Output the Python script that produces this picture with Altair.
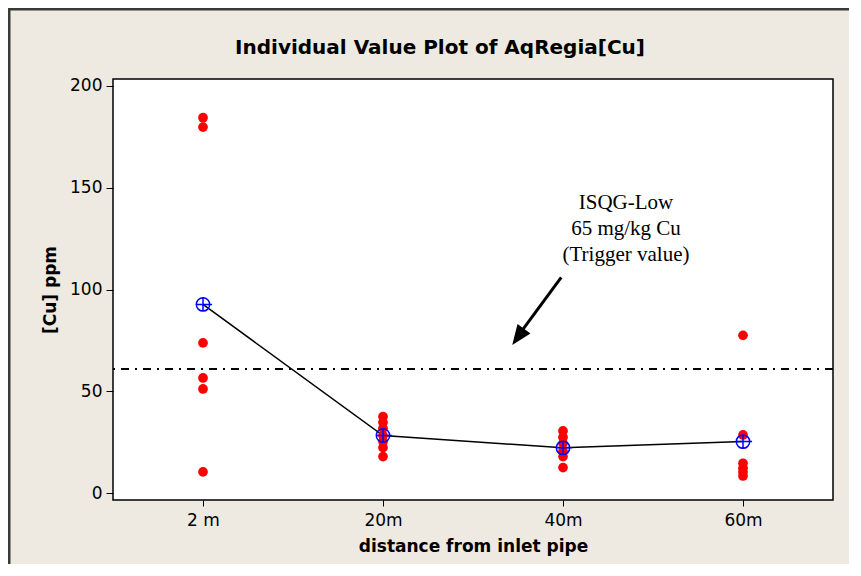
import json
import altair as alt
import pandas as pd

# ---- data ----
CATEGORIES = ["2 m", "20m", "40m", "60m"]
CU_2M = [184.3, 179.7, 73.8, 56.6, 51.2, 10.5]
CU_20M = [37.6, 34.7, 31.9, 28.3, 25.4, 22.4, 18.0]
CU_40M = [30.6, 27.5, 24.5, 20.5, 18.0, 12.6]
CU_60M = [77.5, 28.6, 14.7, 12.3, 10.5, 8.5]
TRIGGER = [61]
TITLE = ["Individual Value Plot of AqRegia[Cu]"]
ANNOT_TEXT = ["ISQG-Low\n65 mg/kg Cu\n(Trigger value)"]
ANNOT_POS = [2.35, 142.6]
ARROW_TAIL = [1.99, 106]
ARROW_END = [1.765, 79]
ARROW_TIP = [1.718, 72.8]

SERIES = [CU_2M, CU_20M, CU_40M, CU_60M]
rows = []
for i, vals in enumerate(SERIES):
    for v in vals:
        rows.append({"pos": i, "cat": CATEGORIES[i], "value": v})
df = pd.DataFrame(rows)

FONT = "DejaVu Sans"
x_scale = alt.Scale(domain=[-0.5, 3.5], nice=False, zero=False)
y_scale = alt.Scale(domain=[-3.3, 203.3], nice=False, zero=False)
label_expr = json.dumps(CATEGORIES) + "[datum.value]"

x_enc = alt.X(
    "pos:Q", scale=x_scale,
    axis=alt.Axis(values=[0, 1, 2, 3], labelExpr=label_expr,
                  title="distance from inlet pipe", grid=False, domain=False,
                  tickSize=6, tickColor="black", labelFontSize=17,
                  labelColor="black", labelFont=FONT, labelPadding=6,
                  titleFont=FONT, titleFontSize=17, titleFontWeight="bold",
                  titleColor="black", titlePadding=10),
)
y_enc = alt.Y(
    "value:Q", scale=y_scale,
    axis=alt.Axis(values=[0, 50, 100, 150, 200], title="[Cu] ppm", grid=False,
                  domain=False, tickSize=7, tickColor="black",
                  labelFontSize=17, labelColor="black", labelFont=FONT,
                  labelPadding=4, titleFont=FONT, titleFontSize=17,
                  titleFontWeight="bold", titleColor="black", titlePadding=10),
)

base = alt.Chart(df)

points = base.mark_circle(color="#FF0000", size=95, opacity=1).encode(x=x_enc, y=y_enc)

mean_line = base.mark_line(color="black", strokeWidth=1.5).encode(
    x=alt.X("pos:Q", scale=x_scale), y=alt.Y("mean(value):Q", scale=y_scale)
)

CIRCLE_PLUS = "M-1,0A1,1,0,1,1,1,0A1,1,0,1,1,-1,0ZM-1,0L1.35,0M0,-1L0,1"
mean_pts = base.mark_point(shape=CIRCLE_PLUS, filled=False, color="#0000FF",
                           size=180, strokeWidth=1.5, opacity=1).encode(
    x=alt.X("pos:Q", scale=x_scale), y=alt.Y("mean(value):Q", scale=y_scale)
)

ref_df = pd.DataFrame({"y": TRIGGER})
ref_rule = alt.Chart(ref_df).mark_rule(color="black", strokeWidth=2,
                                       strokeDash=[8, 6, 2, 6]).encode(
    y=alt.Y("y:Q", scale=y_scale)
)

arrow_df = pd.DataFrame({"x": [ARROW_TAIL[0]], "y": [ARROW_TAIL[1]],
                         "x2": [ARROW_END[0]], "y2": [ARROW_END[1]]})
arrow_line = alt.Chart(arrow_df).mark_rule(color="black", strokeWidth=3).encode(
    x=alt.X("x:Q", scale=x_scale), y=alt.Y("y:Q", scale=y_scale),
    x2="x2:Q", y2="y2:Q"
)

HEAD = "M0,0L1.822,-1.146L0.530,-2.086Z"
head_df = pd.DataFrame({"x": [ARROW_TIP[0]], "y": [ARROW_TIP[1]]})
arrow_head = alt.Chart(head_df).mark_point(shape=HEAD, filled=True, color="black",
                                           size=400, opacity=1, strokeWidth=0).encode(
    x=alt.X("x:Q", scale=x_scale), y=alt.Y("y:Q", scale=y_scale)
)

text_df = pd.DataFrame({"x": [ANNOT_POS[0]], "y": [ANNOT_POS[1]], "t": ANNOT_TEXT})
annot = alt.Chart(text_df).mark_text(font="Liberation Serif", fontSize=21,
                                     lineBreak="\n", lineHeight=26, align="center",
                                     baseline="middle", color="black").encode(
    x=alt.X("x:Q", scale=x_scale), y=alt.Y("y:Q", scale=y_scale), text="t:N"
)

frame = alt.Chart(ref_df).mark_rect(fill=None, stroke="#3a3a3a", strokeWidth=3).encode(
    x=alt.value(-104), x2=alt.value(745), y=alt.value(-70), y2=alt.value(520)
)

title_df = pd.DataFrame({"t": TITLE})
title = alt.Chart(title_df).mark_text(font=FONT, fontSize=20, fontWeight="bold",
                                      color="black", align="center",
                                      baseline="middle").encode(
    x=alt.value(327), y=alt.value(-31), text="t:N"
)

chart = alt.layer(frame, ref_rule, mean_line, arrow_line, arrow_head, points,
                  mean_pts, annot, title).properties(
    width=720, height=421,
    padding={"left": 105, "top": 71, "right": 16, "bottom": 64},
    autosize=alt.AutoSizeParams(type="none"),
    background="#EEEAE1",
).configure_view(stroke="black", strokeWidth=1.5, fill="white")

chart.save("out.html", embed_options={"renderer": "svg", "actions": False})
